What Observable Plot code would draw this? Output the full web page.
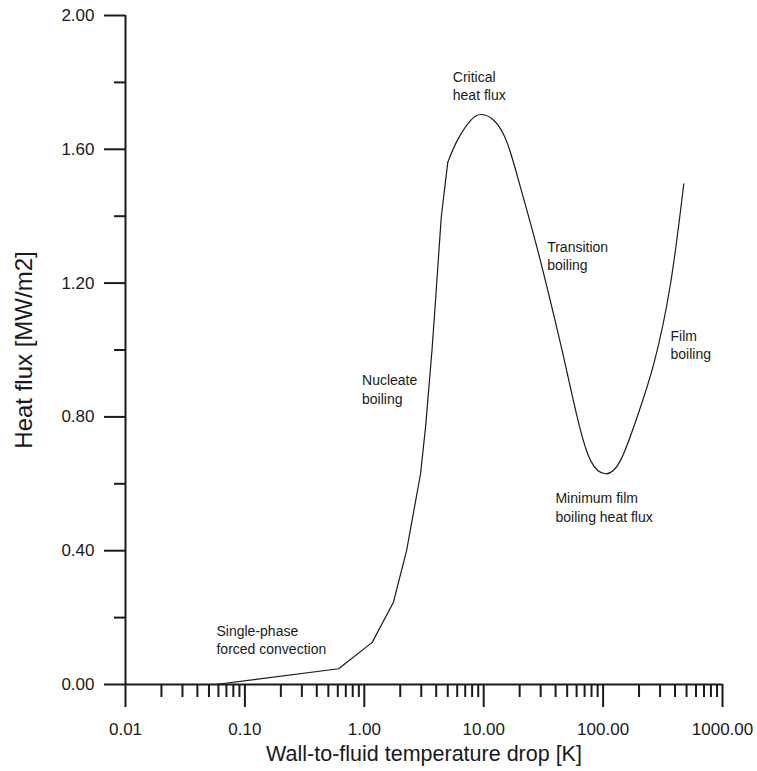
<!DOCTYPE html>
<html><head><meta charset="utf-8">
<script src="https://cdn.jsdelivr.net/npm/d3@7"></script>
<script src="https://cdn.jsdelivr.net/npm/@observablehq/plot@0.6"></script>
<style>body{margin:0;background:#fff}#chart svg{display:block}</style>
</head><body><div id="chart"></div>
<script>
// Boiling curve: wall-to-fluid temperature drop [K] vs heat flux [MW/m2]
const deltaT   = [0.057, 0.61, 1.165, 1.75, 2.26, 2.6, 2.96, 3.26, 3.69, 3.95, 4.41, 5.0,
                  6.0, 7.75, 9.6, 12.2, 15.7, 20.3, 26.3, 34.0, 45.4, 60.7, 78.4, 104.7, 140, 193, 266, 367, 474];
const heatFlux = [0, 0.047, 0.126, 0.245, 0.40, 0.52, 0.63, 0.77, 1.0, 1.148, 1.397, 1.561,
                  1.626, 1.686, 1.704, 1.686, 1.62, 1.487, 1.342, 1.186, 0.998, 0.799, 0.67, 0.63, 0.67, 0.80, 0.959, 1.198, 1.497];
const smoothFrom = 11; // index where the measured curve becomes smooth

const regionLabels = ["Critical\nheat flux", "Transition\nboiling", "Film\nboiling", "Nucleate\nboiling",
                      "Minimum film\nboiling heat flux", "Single-phase\nforced convection"];
const regionX = [5.51, 34.0, 367, 0.957, 39.9, 0.0578];
const regionY = [1.839, 1.331, 1.067, 0.933, 0.580, 0.185];

const xMajorTicks = [0.01, 0.1, 1, 10, 100, 1000];
const xMinorSteps = [2, 3, 4, 5, 6, 7, 8, 9];
const yMajorTicks = [0, 0.4, 0.8, 1.2, 1.6, 2.0];
const yMinorTicks = [0.2, 0.6, 1.0, 1.4, 1.8];
const xTitle = "Wall-to-fluid temperature drop [K]";
const yTitle = "Heat flux [MW/m2]";

const pts = deltaT.map((t, i) => ({t, q: heatFlux[i]}));
const linearPart = pts.slice(0, smoothFrom + 1);
const smoothPart = pts.slice(smoothFrom);
const labels = regionLabels.map((s, i) => ({s, x: regionX[i], y: regionY[i]}));
const xMinorTicks = xMajorTicks.slice(0, -1).flatMap(d => xMinorSteps.map(k => d * k));

const font = "'Liberation Sans', Arial, Helvetica, sans-serif";
const ink = "#1a1a1a";

const chart = Plot.plot({
  width: 757,
  height: 771,
  marginLeft: 125,
  marginRight: 35,
  marginTop: 15,
  marginBottom: 87,
  style: {fontFamily: font, fontSize: "17px", color: ink, background: "#fff"},
  x: {type: "log", domain: [0.01, 1000]},
  y: {domain: [0, 2]},
  marks: [
    Plot.axisX({ticks: xMajorTicks, tickSize: 23, tickPadding: 15, tickFormat: d3.format(".2f"),
                strokeWidth: 2, label: null, fontSize: 17}),
    Plot.axisX({ticks: xMinorTicks, tickSize: 13, tickFormat: () => "", strokeWidth: 2, label: null}),
    Plot.axisY({ticks: yMajorTicks, tickSize: 21, tickPadding: 10, tickFormat: d3.format(".2f"),
                strokeWidth: 2, label: null, fontSize: 17}),
    Plot.axisY({ticks: yMinorTicks, tickSize: 11, tickFormat: () => "", strokeWidth: 2, label: null}),
    Plot.ruleY([0], {x1: 0.01, x2: 1000, stroke: ink, strokeWidth: 2}),
    Plot.ruleX([0.01], {y1: 0, y2: 2, stroke: ink, strokeWidth: 2}),
    Plot.line(linearPart, {x: "t", y: "q", stroke: ink, strokeWidth: 1.2, curve: "linear"}),
    Plot.line(smoothPart, {x: "t", y: "q", stroke: ink, strokeWidth: 1.2, curve: "natural"}),
    Plot.text(labels, {x: "x", y: "y", text: "s", textAnchor: "start", lineAnchor: "top",
                       lineHeight: 1.3, fontSize: 14, fill: ink}),
    Plot.text([xTitle], {frameAnchor: "bottom", dy: 61, lineAnchor: "top", textAnchor: "middle", fontSize: 21.5, fill: ink}),
    Plot.text([yTitle], {frameAnchor: "left", dx: -101.5, rotate: -90, textAnchor: "middle", lineAnchor: "middle", fontSize: 24, fill: ink})
  ]
});
document.getElementById("chart").append(chart);
</script>
</body></html>
